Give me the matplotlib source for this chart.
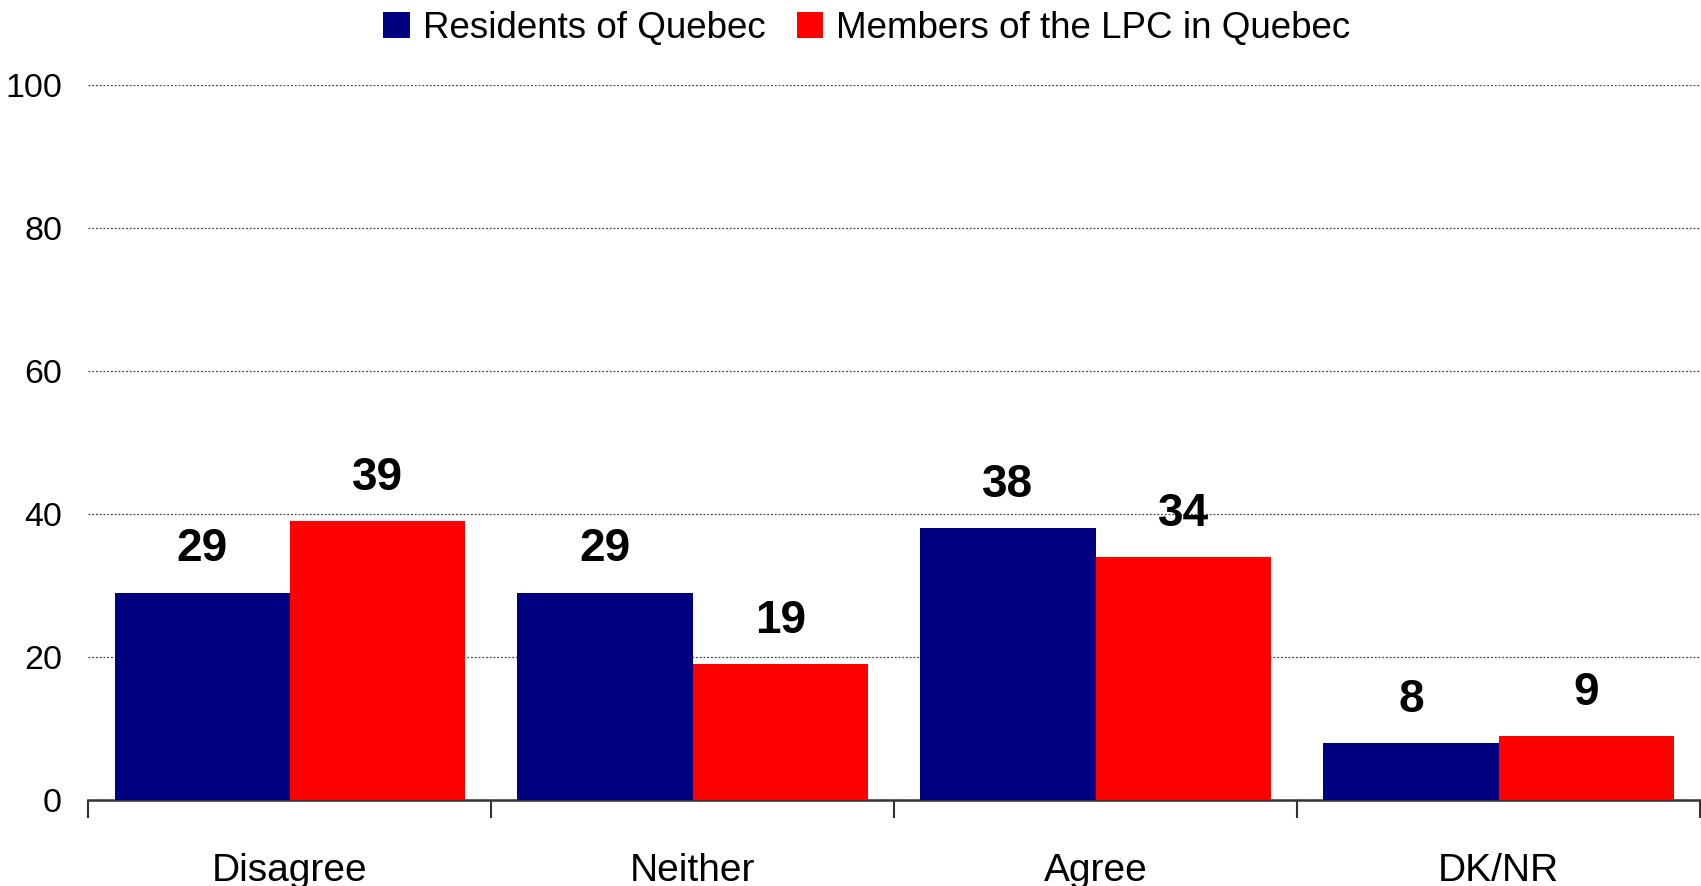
import matplotlib
matplotlib.use("Agg")
import matplotlib.pyplot as plt
import numpy as np

categories = ["Disagree", "Neither", "Agree", "DK/NR"]
series_names = ["Residents of Quebec", "Members of the LPC in Quebec"]
residents = [29, 29, 38, 8]
members = [39, 19, 34, 9]
yticks = [0, 20, 40, 60, 80, 100]

plt.rcParams['font.family'] = ['Liberation Sans', 'DejaVu Sans']

fig = plt.figure(figsize=(17.01, 8.86), dpi=100)
ax = fig.add_axes([88.4/1701, 86/886, (1700-88.4)/1701, (801.4-86)/886])

x = np.arange(len(categories))
w = 0.435
colors = ["#000080", "#FF0000"]
b1 = ax.bar(x - w/2, residents, w, color=colors[0], zorder=3, label=series_names[0])
b2 = ax.bar(x + w/2, members, w, color=colors[1], zorder=3, label=series_names[1])

for bars, vals in ((b1, residents), (b2, members)):
    for rect, v in zip(bars, vals):
        ax.annotate(f"{v}", (rect.get_x() + rect.get_width()/2, v),
                    xytext=(0, 31), textcoords="offset points",
                    ha="center", va="center", fontsize=33, fontweight="bold")

ax.set_xlim(-0.5, len(categories) - 0.5)
ax.set_ylim(0, 100)
ax.set_yticks(yticks)
ax.set_yticklabels([str(t) for t in yticks], fontsize=24.5)
ax.tick_params(axis='y', length=0, pad=19)
ax.yaxis.grid(True, color="#444444", linestyle=(0, (1.5, 1.5)), linewidth=0.9, zorder=0)
ax.set_axisbelow(True)

ax.set_xticks(x)
ax.set_xticklabels(categories, fontsize=28)
ax.tick_params(axis='x', which='major', length=0, pad=38)
ax.set_xticks(np.arange(-0.5, len(categories), 1.0), minor=True)
ax.tick_params(axis='x', which='minor', length=13, width=1.5, color="#333333", direction='out')

for s in ("left", "right", "top"):
    ax.spines[s].set_visible(False)
ax.spines["bottom"].set_linewidth(1.8)
ax.spines["bottom"].set_color("#333333")

fig.legend(handles=[b1, b2], labels=series_names, loc="upper center",
           bbox_to_anchor=(867/1701, 1 - 7/886), ncol=2, frameon=False, fontsize=26.5,
           handlelength=0.72, handleheight=0.72, handletextpad=0.35, columnspacing=0.85,
           borderaxespad=0.0, borderpad=0.1)

fig.savefig("out.png", dpi=100)
